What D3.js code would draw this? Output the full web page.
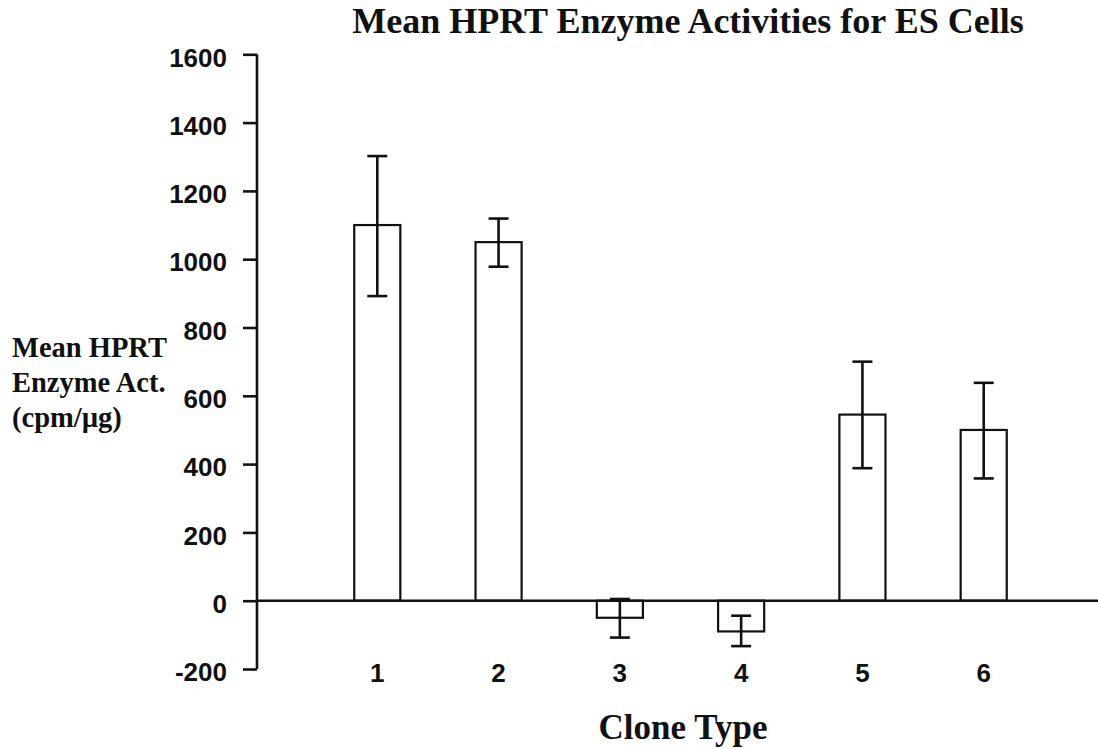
<html>
  <head>
    <meta charset="utf-8" />
    <script src="https://cdn.jsdelivr.net/npm/d3@7"></script>
    <style>
      * {
        margin: 0;
        padding: 0;
      }
      body {
        background-color: white;
      }
      .serif {
        font-family: "Liberation Serif", "Times New Roman", serif;
        font-weight: bold;
      }
      .sans {
        font-family: "Liberation Sans", Arial, sans-serif;
        font-weight: bold;
      }
    </style>
  </head>
  <body>
    <div id="chart"></div>
    <script>
      // values
      const clones = ["1", "2", "3", "4", "5", "6"];
      const means = [1100, 1050, -50, -90, 545, 500];
      const errLow = [892, 978, -108, -133, 388, 358];
      const errHigh = [1302, 1119, 5, -44, 700, 638];
      const yTicks = [-200, 0, 200, 400, 600, 800, 1000, 1200, 1400, 1600];
      const yLabelLines = ["Mean HPRT", "Enzyme Act.", "(cpm/\u00b5g)"];

      const w = 1098;
      const h = 749;

      const dataset = clones.map((c, i) => ({
        clone: c,
        mean: means[i],
        lo: errLow[i],
        hi: errHigh[i],
      }));

      const yScale = d3.scaleLinear().domain([-200, 1600]).range([669, 54.3]);

      const xScale = d3
        .scaleBand()
        .domain(clones)
        .range([256, 1105])
        .paddingInner(0.62)
        .paddingOuter(0.81);

      const svg = d3
        .select("#chart")
        .append("svg")
        .attr("width", w)
        .attr("height", h);

      // title
      svg
        .append("text")
        .attr("class", "serif")
        .attr("x", 688)
        .attr("y", 33)
        .attr("text-anchor", "middle")
        .attr("font-size", 36)
        .attr("fill", "#111")
        .text("Mean HPRT Enzyme Activities for ES Cells");

      // y axis
      const yAxis = d3
        .axisLeft(yScale)
        .tickValues(yTicks)
        .tickSize(14)
        .tickPadding(16)
        .tickFormat((d) => String(d));

      const gy = svg
        .append("g")
        .attr("transform", "translate(257,0)")
        .call(yAxis);
      gy.select(".domain")
        .attr("stroke", "#111")
        .attr("stroke-width", 2.6)
        .attr("d", "M0," + yScale(1600) + "V" + yScale(-200));
      gy.selectAll(".tick line").attr("stroke", "#111").attr("stroke-width", 2.6);
      gy.selectAll(".tick text")
        .attr("class", "sans")
        .attr("font-size", 26)
        .attr("fill", "#111")
        .attr("dy", "0.45em");

      // y label
      svg
        .append("text")
        .attr("class", "serif")
        .attr("font-size", 28.5)
        .attr("fill", "#111")
        .selectAll("tspan")
        .data(yLabelLines)
        .enter()
        .append("tspan")
        .attr("x", 12)
        .attr("y", (d, i) => 357 + i * 35)
        .text((d) => d);

      // bars
      svg
        .selectAll("rect.bar")
        .data(dataset)
        .enter()
        .append("rect")
        .attr("class", "bar")
        .attr("x", (d) => xScale(d.clone))
        .attr("y", (d) => yScale(Math.max(0, d.mean)))
        .attr("width", xScale.bandwidth())
        .attr("height", (d) => Math.abs(yScale(d.mean) - yScale(0)))
        .attr("fill", "white")
        .attr("stroke", "#111")
        .attr("stroke-width", 2.2);

      // zero line
      svg
        .append("line")
        .attr("x1", 257)
        .attr("x2", w)
        .attr("y1", yScale(0))
        .attr("y2", yScale(0))
        .attr("stroke", "#111")
        .attr("stroke-width", 2.6);

      // error bars
      const cx = (d) => xScale(d.clone) + xScale.bandwidth() / 2;
      const cap = 10;
      const err = svg.append("g").attr("stroke", "#111").attr("stroke-width", 2.6);
      err
        .selectAll("line.v")
        .data(dataset)
        .enter()
        .append("line")
        .attr("x1", cx)
        .attr("x2", cx)
        .attr("y1", (d) => yScale(d.lo))
        .attr("y2", (d) => yScale(d.hi));
      ["lo", "hi"].forEach((k) => {
        err
          .selectAll("line.c" + k)
          .data(dataset)
          .enter()
          .append("line")
          .attr("x1", (d) => cx(d) - cap)
          .attr("x2", (d) => cx(d) + cap)
          .attr("y1", (d) => yScale(d[k]))
          .attr("y2", (d) => yScale(d[k]));
      });

      // category labels
      svg
        .selectAll("text.cat")
        .data(dataset)
        .enter()
        .append("text")
        .attr("class", "sans")
        .attr("x", cx)
        .attr("y", 682)
        .attr("text-anchor", "middle")
        .attr("font-size", 26)
        .attr("fill", "#111")
        .text((d) => d.clone);

      // x label
      svg
        .append("text")
        .attr("class", "serif")
        .attr("x", 683)
        .attr("y", 739)
        .attr("text-anchor", "middle")
        .attr("font-size", 35)
        .attr("fill", "#111")
        .text("Clone Type");
    </script>
  </body>
</html>
